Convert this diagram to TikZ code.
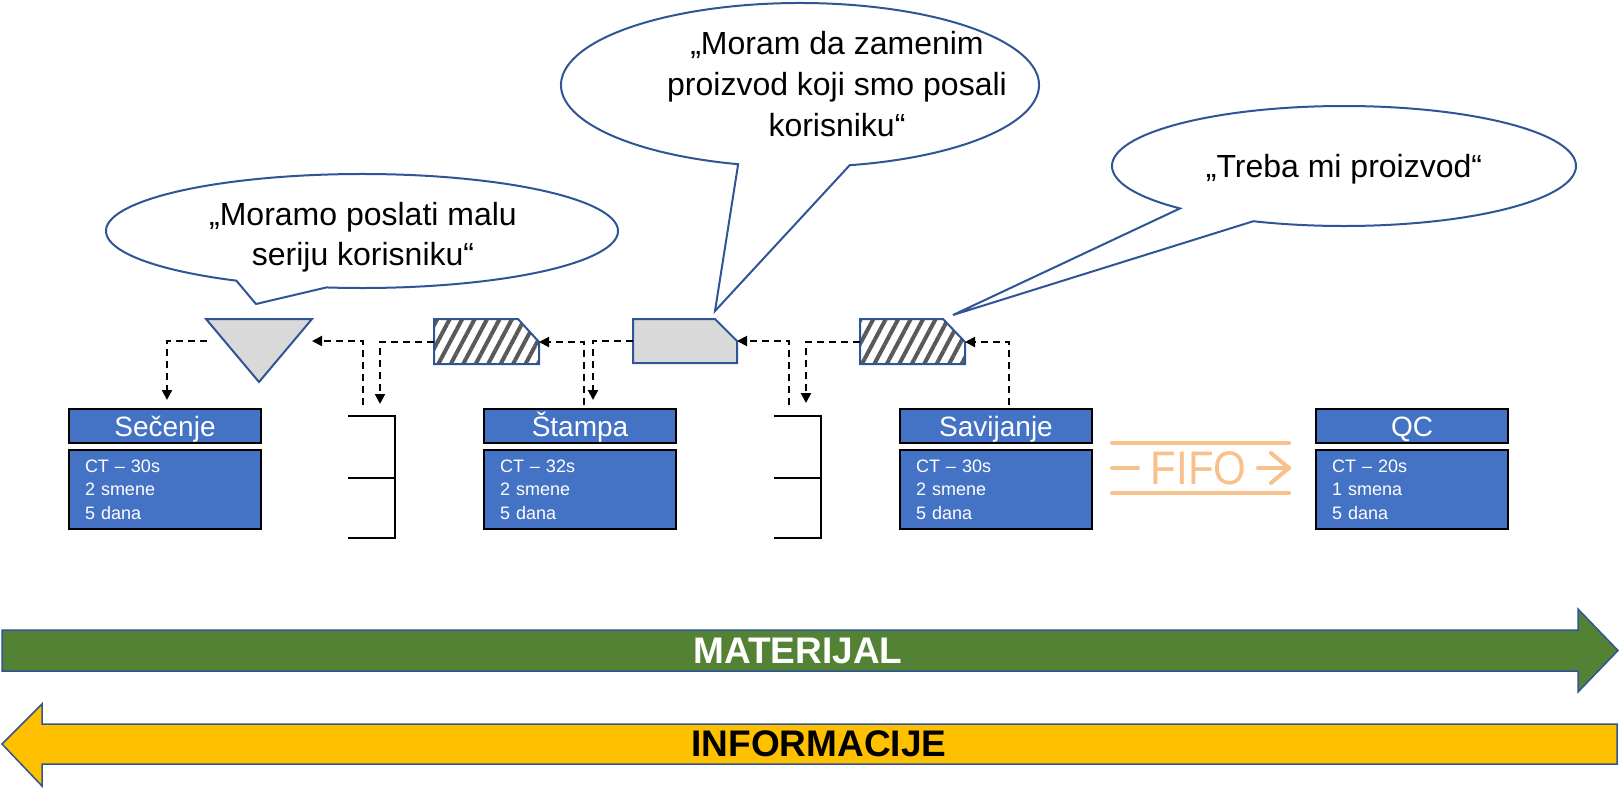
\documentclass[tikz,border=0pt]{standalone}
\usepackage{fontspec}
\setmainfont{Liberation Sans}
\usetikzlibrary{arrows.meta,patterns.meta,calc}
\definecolor{pblue}{HTML}{4472C4}
\definecolor{cblue}{HTML}{2F5597}
\definecolor{lgray}{HTML}{D9D9D9}
\definecolor{hgray}{HTML}{595959}
\definecolor{mgreen}{HTML}{548235}
\definecolor{myellow}{HTML}{FFC000}
\definecolor{fifoc}{HTML}{F8C08A}
\begin{document}
\begin{tikzpicture}[x=1pt,y=-1pt,
  hdr/.style={draw=black,line width=2.5pt,fill=pblue,text=white,minimum width=192pt,minimum height=34pt,inner sep=0pt,font=\fontsize{28}{30}\selectfont,text height=20pt,text depth=0pt},
  bodybox/.style={draw=black,line width=2.5pt,fill=pblue,text=white,minimum width=192pt,minimum height=79pt,inner sep=0pt,text width=160pt,align=left,font=\fontsize{18}{23.5}\selectfont},
  dsh/.style={draw=black,line width=2pt,dash pattern=on 7pt off 5pt,-{Triangle[length=10pt,width=10pt]}},
  callout/.style={draw=cblue,line width=2pt,fill=white,line join=miter},
  ctext/.style={anchor=base,align=center,font=\fontsize{32}{40}\selectfont,inner sep=0pt},
  hatchbox/.style={draw=cblue,line width=2pt,preaction={fill=white},pattern={Lines[angle=62,distance=11pt,line width=4pt]},pattern color=hgray},
  graybox/.style={draw=cblue,line width=2pt,fill=lgray},
  stackln/.style={draw=black,line width=2pt},
  fifoln/.style={draw=fifoc,line width=4pt,line cap=round},
  bigarrow/.style={draw=cblue,line width=1.5pt,line join=miter},
  bigtext/.style={font=\fontsize{37}{40}\selectfont\bfseries,inner sep=0pt}
]
\useasboundingbox (0,0) rectangle (1620,790);

% ---------- callouts ----------
\coordinate (k1) at (362,231);
\coordinate (tip1) at (256,304);
\draw[callout] ($(k1)+(119.4:256 and 57)$) arc[start angle=119.4,end angle=458,x radius=256,y radius=57] -- (tip1) -- cycle;
\node[ctext] (txt1) at (363,265) {„Moramo poslati malu\\seriju korisniku“};

\coordinate (k2) at (800,85);
\coordinate (tip2) at (715,311);
\draw[callout] ($(k2)+(105:239 and 82)$) arc[start angle=105,end angle=438,x radius=239,y radius=82] -- (tip2) -- cycle;
\node[ctext,font=\fontsize{32}{41}\selectfont] (txt2) at (837,136) {„Moram da zamenim\\proizvod koji smo posali\\korisniku“};

\coordinate (k3) at (1344,166);
\coordinate (tip3) at (953,315);
\draw[callout] ($(k3)+(135:232 and 60)$) arc[start angle=135,end angle=473,x radius=232,y radius=60] -- (tip3) -- cycle;
\node[ctext] (txt3) at (1344,177) {„Treba mi proizvod“};

% ---------- symbols on the information row ----------
\draw[graybox] (206,319) -- (312,319) -- (259,382) -- cycle;
\coordinate (tri-w) at (207,341);
\coordinate (tri-e) at (312,341);

\draw[hatchbox] (434,319) -- (518,319) -- (539,342) -- (539,364) -- (434,364) -- cycle;
\coordinate (h1-w) at (434,342);
\coordinate (h1-e) at (539,342);

\draw[graybox] (633,319) -- (715,319) -- (737,341) -- (737,363) -- (633,363) -- cycle;
\coordinate (g-w) at (633,341);
\coordinate (g-e) at (737,341);

\draw[hatchbox] (860,319) -- (943,319) -- (965,342) -- (965,364) -- (860,364) -- cycle;
\coordinate (h2-w) at (860,342);
\coordinate (h2-e) at (965,342);

% ---------- stacks ----------
\draw[stackln] (348,416) -- (395,416) -- (395,538) -- (348,538) (348,478) -- (395,478);
\draw[stackln] (774,416) -- (821,416) -- (821,538) -- (774,538) (774,478) -- (821,478);

% ---------- processes ----------
\node[hdr] (p1) at (165,426) {Sečenje};
\node[bodybox] (b1) at (165,489.5) {CT – 30s\\2 smene\\5 dana};
\node[hdr] (p2) at (580,426) {Štampa};
\node[bodybox] (b2) at (580,489.5) {CT – 32s\\2 smene\\5 dana};
\node[hdr] (p3) at (996,426) {Savijanje};
\node[bodybox] (b3) at (996,489.5) {CT – 30s\\2 smene\\5 dana};
\node[hdr] (p4) at (1412,426) {QC};
\node[bodybox] (b4) at (1412,489.5) {CT – 20s\\1 smena\\5 dana};

% ---------- connector end points ----------
\coordinate (c1) at (167,400);
\coordinate (c2) at (363,405);
\coordinate (c3) at (380,404);
\coordinate (c4) at (584,405);
\coordinate (c5) at (593,400);
\coordinate (c6) at (789,405);
\coordinate (c7) at (806,403);
\coordinate (c8) at (1009,405);

\draw[dsh] (tri-w) -| (c1);
\draw[dsh] (c2) |- (tri-e);
\draw[dsh] (h1-w) -| (c3);
\draw[dsh] (c4) |- (h1-e);
\draw[dsh] (g-w) -| (c5);
\draw[dsh] (c6) |- (g-e);
\draw[dsh] (h2-w) -| (c7);
\draw[dsh] (c8) |- (h2-e);

% ---------- FIFO ----------
\draw[fifoln] (1112,443) -- (1289,443);
\draw[fifoln] (1112,493) -- (1289,493);
\draw[fifoln] (1112,468) -- (1138,468);
\draw[fifoln] (1258,468) -- (1289,468);
\draw[fifoln,line join=round] (1271,453) -- (1289,468) -- (1271,483);
\node[text=fifoc,font=\fontsize{42}{44}\selectfont,inner sep=0pt,yscale=1.12] (fifo) at (1198.5,468) {FIFO};

% ---------- big arrows ----------
\draw[bigarrow,fill=mgreen] (2,630) -- (1578,630) -- (1578,609) -- (1618,650.5) -- (1578,692) -- (1578,671) -- (2,671) -- cycle;
\node[bigtext,text=white] (mat) at (798,651) {MATERIJAL};
\draw[bigarrow,fill=myellow] (1617,724) -- (42,724) -- (42,704) -- (2,744) -- (42,786) -- (42,764) -- (1617,764) -- cycle;
\node[bigtext,text=black] (inf) at (819,744) {INFORMACIJE};
\end{tikzpicture}
\end{document}
